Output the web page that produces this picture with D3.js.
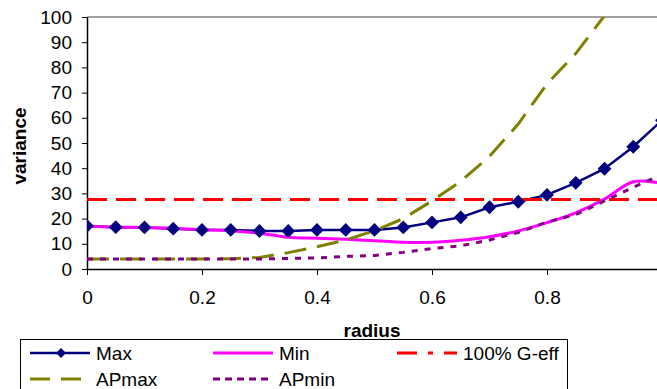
<!DOCTYPE html>
<html>
<head>
<meta charset="utf-8">
<script src="https://cdn.jsdelivr.net/npm/d3@7"></script>
<style>
  body { margin: 0; background: #fff; }
  svg { display: block; font-family: "Liberation Sans", Arial, sans-serif; }
</style>
</head>
<body>
<svg id="chart" width="657" height="389"></svg>
<script>
// radius values (every 0.05)
const radius = [0, 0.05, 0.1, 0.15, 0.2, 0.25, 0.3, 0.35, 0.4, 0.45, 0.5,
  0.55, 0.6, 0.65, 0.7, 0.75, 0.8, 0.85, 0.9, 0.95, 1.0]
const maxVals = [17.1, 16.6, 16.5, 16.0, 15.5, 15.5, 15.1, 15.1, 15.5, 15.5, 15.5,
  16.5, 18.5, 20.5, 24.5, 26.7, 29.4, 34.2, 39.8, 48.5, 59]
const minVals = [17.1, 16.6, 16.5, 16.2, 15.6, 15.2, 14.2, 12.6, 12.2, 11.8, 11.2,
  10.6, 10.6, 11.4, 12.8, 15.1, 18.4, 22.3, 27.7, 34.6, 34.0]
const apMaxVals = [4, 4, 4, 4, 4, 4.1, 4.6, 6.5, 8.8, 11.5, 15.2,
  20, 27, 34.8, 44.7, 57.5, 73.5, 85.5, 100.5, 115, 130]
const apMinVals = [4, 4, 4, 4, 4, 4, 4, 4.2, 4.4, 5.0, 5.4,
  6.6, 8.1, 9.2, 11.5, 14.5, 18.6, 21.6, 27, 32.4, 37.5]
const gEffX = [0, 1]
const gEffVals = [27.6, 27.6]
const xTicks = [0, 0.2, 0.4, 0.6, 0.8]
const yTicks = [0, 10, 20, 30, 40, 50, 60, 70, 80, 90, 100]

const margin = { top: 17, left: 87 }
const plotW = 575
const plotH = 252

const svg = d3.select('#chart')
const x = d3.scaleLinear().domain([0, 1]).range([0, plotW])
const y = d3.scaleLinear().domain([0, 100]).range([plotH, 0])

const g = svg.append('g').attr('transform', `translate(${margin.left},${margin.top})`)

g.append('clipPath').attr('id', 'clip')
  .append('rect').attr('x', 0).attr('y', 0).attr('width', plotW).attr('height', plotH)

// plot frame (top border grey)
g.append('line')
  .attr('x1', 0).attr('x2', plotW).attr('y1', 0).attr('y2', 0)
  .attr('stroke', '#808080').attr('stroke-width', 1.5)

// axes
const yAxis = g.append('g')
  .call(d3.axisLeft(y).tickValues(yTicks).tickSize(5).tickPadding(10).tickSizeOuter(0))
const xAxis = g.append('g')
  .attr('transform', `translate(0,${plotH})`)
  .call(d3.axisBottom(x).tickValues(xTicks).tickFormat(d3.format('')).tickSize(6).tickPadding(16).tickSizeOuter(0))

for (const ax of [xAxis, yAxis]) {
  ax.selectAll('text').style('font-size', '19px').attr('fill', '#000')
  ax.selectAll('line').attr('stroke', '#000')
  ax.select('.domain').attr('stroke', '#000').attr('stroke-width', 1.5)
}

// series
const plot = g.append('g').attr('clip-path', 'url(#clip)')

function drawLine(xs, vals, color, width, dash, curve) {
  const line = d3.line()
    .x((d, i) => x(xs[i]))
    .y((d) => y(d))
    .curve(curve || d3.curveLinear)
  plot.append('path')
    .datum(vals)
    .attr('fill', 'none')
    .attr('stroke', color)
    .attr('stroke-width', width)
    .attr('stroke-dasharray', dash)
    .attr('d', line)
}

drawLine(radius, maxVals, '#000080', 2.5, null)
drawLine(radius, minVals, '#ff00ff', 3, null, d3.curveCatmullRom)
drawLine(gEffX, gEffVals, '#ff0000', 3, '20,9')
drawLine(radius, apMaxVals, '#808000', 3, '22,11')
drawLine(radius, apMinVals, '#800080', 3, '6,7')

const diamond = d3.symbol().type(d3.symbolSquare).size(96)
plot.append('g').selectAll('path')
  .data(maxVals)
  .join('path')
  .attr('d', diamond)
  .attr('transform', (d, i) => `translate(${x(radius[i])},${y(d)}) rotate(45)`)
  .attr('fill', '#000080')

// axis titles
svg.append('text')
  .attr('x', 372).attr('y', 337)
  .attr('text-anchor', 'middle')
  .style('font-size', '19px').style('font-weight', 'bold')
  .text('radius')
svg.append('text')
  .attr('transform', 'translate(26,146) rotate(-90)')
  .attr('text-anchor', 'middle')
  .style('font-size', '19px').style('font-weight', 'bold')
  .text('variance')

// legend
const legend = svg.append('g')
legend.append('rect')
  .attr('x', 20.5).attr('y', 339.5).attr('width', 547).attr('height', 70)
  .attr('fill', '#fff').attr('stroke', '#000').attr('stroke-width', 1)

const items = [
  { name: 'Max', color: '#000080', w: 2.5, dash: null, x0: 30, y0: 353, marker: true },
  { name: 'Min', color: '#ff00ff', w: 3, dash: null, x0: 213, y0: 353 },
  { name: '100% G-eff', color: '#ff0000', w: 3, dash: '20,11,5,11', x0: 397, y0: 353 },
  { name: 'APmax', color: '#808000', w: 3, dash: '20,11', x0: 30, y0: 379 },
  { name: 'APmin', color: '#800080', w: 3, dash: '7,5', x0: 213, y0: 379 }
]
items.forEach((it) => {
  legend.append('line')
    .attr('x1', it.x0).attr('x2', it.x0 + 60)
    .attr('y1', it.y0).attr('y2', it.y0)
    .attr('stroke', it.color).attr('stroke-width', it.w)
    .attr('stroke-dasharray', it.dash)
  if (it.marker) {
    legend.append('path')
      .attr('d', d3.symbol().type(d3.symbolSquare).size(50)())
      .attr('transform', `translate(${it.x0 + 31},${it.y0}) rotate(45)`)
      .attr('fill', it.color)
  }
  legend.append('text')
    .attr('x', it.x0 + 66).attr('y', it.y0)
    .attr('dy', '0.36em')
    .style('font-size', '19px')
    .text(it.name)
})
</script>
</body>
</html>
